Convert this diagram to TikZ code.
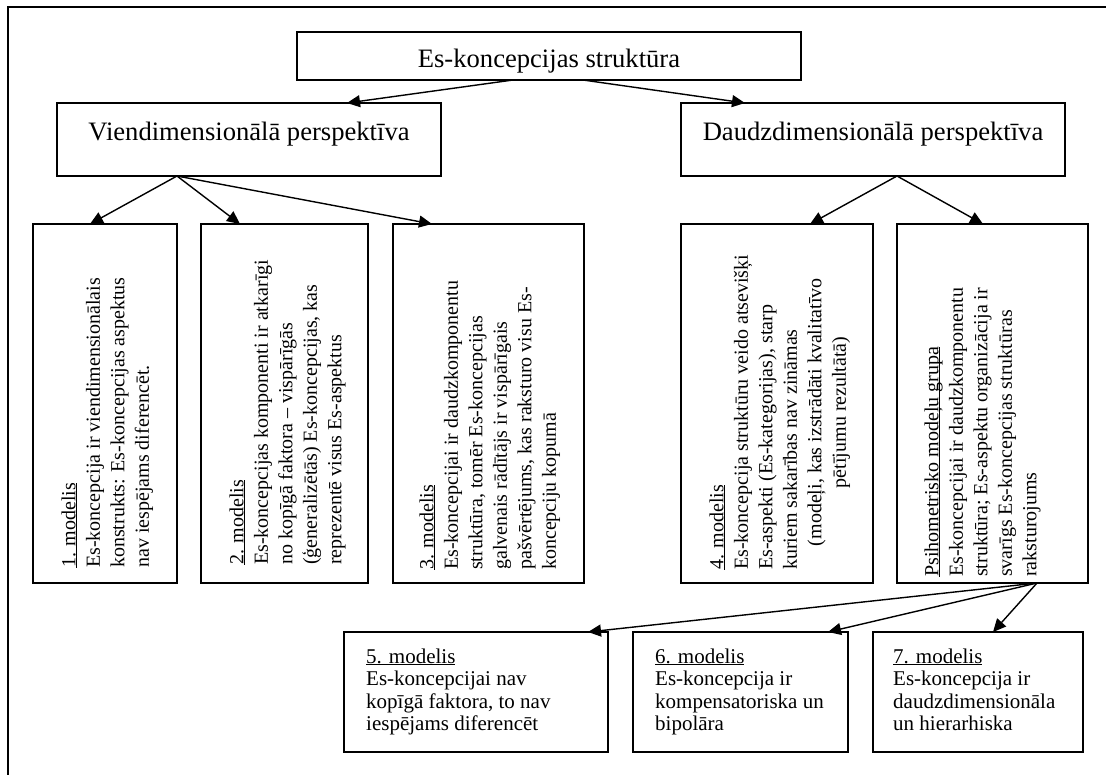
\documentclass[tikz,border=0pt]{standalone}
\usepackage{fontspec}
\setmainfont{Liberation Serif}
\usetikzlibrary{arrows.meta}
\newcommand\ulx[1]{\setbox0\hbox{#1}\rlap{\rule[-2.2pt]{\wd0}{1.1pt}}\box0}
\tikzset{
  boxst/.style={draw, line width=1.6pt, inner sep=0pt, outer sep=0pt, anchor=north west},
  titletext/.style={anchor=base, inner sep=0pt, font=\fontsize{26.6}{32}\selectfont},
  vtext/.style={rotate=90, anchor=north west, inner sep=0pt, align=left, font=\fontsize{20}{24.5}\selectfont},
  htext/.style={anchor=north west, inner sep=0pt, align=left, font=\fontsize{21}{22.5}\selectfont},
  arr/.style={-{Triangle[length=13pt,width=12pt]}, line width=1.4pt},
  framest/.style={line width=1.3pt}
}
\begin{document}
\begin{tikzpicture}[x=1pt,y=-1pt]
\useasboundingbox (0,0) rectangle (1110,774);
\draw[framest] (8,790) -- (8,7) -- (1106,7);

% boxes
\node[boxst, minimum width=504pt, minimum height=48pt] (top) at (297,32) {};
\node[boxst, minimum width=384pt, minimum height=73pt] (vien) at (57,103) {};
\node[boxst, minimum width=384pt, minimum height=73pt] (daud) at (681,103) {};
\node[boxst, minimum width=144pt, minimum height=359pt] (m1) at (33,224) {};
\node[boxst, minimum width=167pt, minimum height=359pt] (m2) at (201,224) {};
\node[boxst, minimum width=191pt, minimum height=359pt] (m3) at (393,224) {};
\node[boxst, minimum width=192pt, minimum height=359pt] (m4) at (681,224) {};
\node[boxst, minimum width=191pt, minimum height=359pt] (psi) at (897,224) {};
\node[boxst, minimum width=264pt, minimum height=120pt] (m5) at (344,632) {};
\node[boxst, minimum width=215pt, minimum height=120pt] (m6) at (633,632) {};
\node[boxst, minimum width=210pt, minimum height=120pt] (m7) at (873,632) {};

% titles
\node[titletext] (toptxt) at (549,67) {Es-koncepcijas struktūra};
\node[titletext] (vientxt) at (249,140) {Viendimensionālā perspektīva};
\node[titletext] (daudtxt) at (873,140) {Daudzdimensionālā perspektīva};

% rotated texts
\node[vtext] (m1txt) at (61.2,568) {\ulx{1. modelis}\\Es-koncepcija ir viendimensionālais\\konstrukts: Es-koncepcijas aspektus\\nav iespējams diferencēt.};
\node[vtext] (m2txt) at (229.2,565) {\ulx{2. modelis}\\Es-koncepcijas komponenti ir atkarīgi\\no kopīgā faktora – vispārīgās\\(ģeneralizētās) Es-koncepcijas, kas\\reprezentē visus Es-aspektus};
\node[vtext] (m3txt) at (419.2,570) {\ulx{3. modelis}\\Es-koncepcijai ir daudzkomponentu\\struktūra, tomēr Es-koncepcijas\\galvenais rādītājs ir vispārīgais\\pašvērtējums, kas raksturo visu Es-\\koncepciju kopumā};
\node[vtext] (m4txt) at (709.2,570) {\ulx{4. modelis}\\Es-koncepcija struktūru veido atsevišķi\\Es-aspekti (Es-kategorijas), starp\\kuriem sakarības nav zināmas\\\makebox[315pt][c]{(modeļi, kas izstrādāti kvalitatīvo}\\\makebox[315pt][c]{pētījumu rezultātā)}};
\node[vtext] (psitxt) at (924.2,577) {\ulx{Psihometrisko modeļu grupa}\\Es-koncepcijai ir daudzkomponentu\\struktūra; Es-aspektu organizācija ir\\svarīgs Es-koncepcijas struktūras\\raksturojums};

% bottom texts
\node[htext] (m5txt) at (366,648.5) {\ulx{5. modelis}\\Es-koncepcijai nav\\kopīgā faktora, to nav\\iespējams diferencēt};
\node[htext] (m6txt) at (655,648.5) {\ulx{6. modelis}\\Es-koncepcija ir\\kompensatoriska un\\bipolāra};
\node[htext] (m7txt) at (893,648.5) {\ulx{7. modelis}\\Es-koncepcija ir\\daudzdimensionāla\\un hierarhiska};

% arrows
\draw[arr] ([xshift=-36pt]top.south) -- ([xshift=98pt]vien.north);
\draw[arr] ([xshift=34pt]top.south) -- ([xshift=-128pt]daud.north);
\draw[arr] ([xshift=-72pt]vien.south) -- ([xshift=-15pt]m1.north);
\draw[arr] ([xshift=-72pt]vien.south) -- ([xshift=-44.5pt]m2.north);
\draw[arr] ([xshift=-72pt]vien.south) -- ([xshift=-56.5pt]m3.north);
\draw[arr] ([xshift=24pt]daud.south) -- ([xshift=33pt]m4.north);
\draw[arr] ([xshift=24pt]daud.south) -- ([xshift=-9.5pt]psi.north);
\draw[arr] ([xshift=44.5pt]psi.south) -- ([xshift=112pt]m5.north);
\draw[arr] ([xshift=44.5pt]psi.south) -- ([xshift=87.5pt]m6.north);
\draw[arr] ([xshift=44.5pt]psi.south) -- ([xshift=15pt]m7.north);
\end{tikzpicture}
\end{document}
